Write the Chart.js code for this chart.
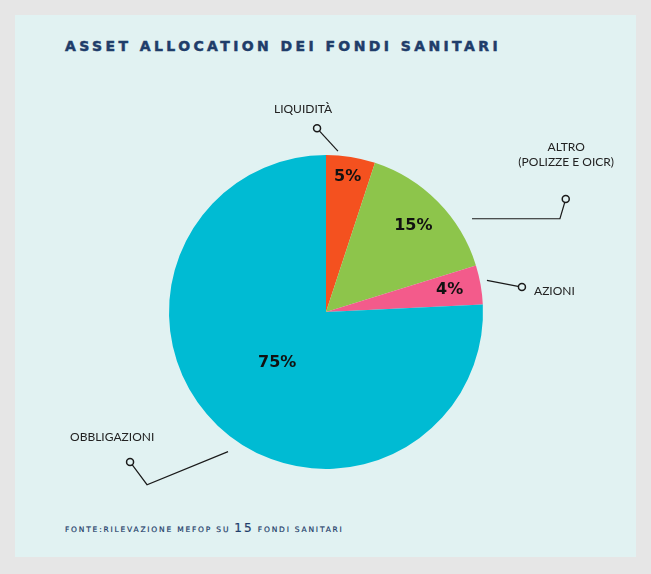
<!DOCTYPE html>
<html>
<head>
<meta charset="utf-8">
<script src="https://cdn.jsdelivr.net/npm/chart.js@4"></script>
<style>
    html, body { margin: 0; padding: 0; }
    body { width: 651px; height: 574px; background: #e6e6e6; position: relative; overflow: hidden; }
    #pannello { position: absolute; left: 15px; top: 15px; width: 621px; height: 542px; background: #e1f2f2; }
    #titolo { position: absolute; left: 65px; top: 38px; font-family: "DejaVu Sans", sans-serif; font-weight: bold; font-size: 14px; letter-spacing: 3.4px; color: #1f3d6a; white-space: nowrap; -webkit-text-stroke: 0.5px #1f3d6a; }
    #fonte { position: absolute; left: 65px; top: 521px; font-family: "DejaVu Sans", sans-serif; font-size: 7.5px; letter-spacing: 1.8px; color: #1f3d6a; white-space: nowrap; -webkit-text-stroke: 0.2px #1f3d6a; }
    #fonte b { font-size: 12px; font-weight: normal; letter-spacing: 2px; }
    #grafico { position: absolute; left: 0; top: 0; }
</style>
</head>
<body>
<div id="pannello"></div>
<div id="titolo">ASSET ALLOCATION DEI FONDI SANITARI</div>
<div id="fonte">FONTE:RILEVAZIONE MEFOP SU <b>15</b> FONDI SANITARI</div>
<canvas id="grafico" width="651" height="574"></canvas>
<script>
// dati (senso orario a partire dalle ore 12)
const categorie = ["LIQUIDITÀ", "ALTRO", "AZIONI", "OBBLIGAZIONI"];
const valori = [5, 15, 4, 75];
const colori = ["#f4511f", "#8dc54b", "#f35b8b", "#00bbd3"];

// posizione delle percentuali (frazione del raggio) e delle etichette esterne
// le coordinate sono relative al centro, in unità di raggio
const posPercentuale = [0.87, 0.78, 0.80, 0.45];
const guide = [
    { punti: [[0.076, -1.025], [-0.057, -1.17]], testo: ["LIQUIDITÀ"], tx: -0.146, ty: -1.29, align: "center" },
    { punti: [[0.93, -0.594], [1.49, -0.594], [1.527, -0.72]], testo: ["ALTRO", "(POLIZZE E OICR)"], tx: 1.53, ty: -1.05, align: "center" },
    { punti: [[1.025, -0.201], [1.248, -0.159]], testo: ["AZIONI"], tx: 1.325, ty: -0.134, align: "left" },
    { punti: [[-0.624, 0.889], [-1.14, 1.1], [-1.248, 0.955]], testo: ["OBBLIGAZIONI"], tx: -1.63, ty: 0.8, align: "left" }
];

const etichettePlugin = {
    id: "etichette",
    afterDatasetsDraw(chart) {
        const ctx = chart.ctx;
        const meta = chart.getDatasetMeta(0);
        const arco0 = meta.data[0];
        const cx = arco0.x, cy = arco0.y, r = arco0.outerRadius;

        ctx.save();
        // percentuali dentro le fette
        ctx.fillStyle = "#111";
        ctx.font = "bold 16px 'DejaVu Sans', sans-serif";
        ctx.textAlign = "center";
        ctx.textBaseline = "middle";
        meta.data.forEach((arco, i) => {
            const ang = (arco.startAngle + arco.endAngle) / 2;
            const rr = r * posPercentuale[i];
            ctx.fillText(valori[i] + "%", cx + Math.cos(ang) * rr, cy + Math.sin(ang) * rr);
        });

        // linee guida con pallino
        guide.forEach((g) => {
            ctx.strokeStyle = "#1a1a1a";
            ctx.lineWidth = 1.2;
            ctx.beginPath();
            g.punti.forEach((p, k) => {
                const x = cx + p[0] * r, y = cy + p[1] * r;
                if (k === 0) ctx.moveTo(x, y); else ctx.lineTo(x, y);
            });
            ctx.stroke();
            const ultimo = g.punti[g.punti.length - 1];
            ctx.beginPath();
            ctx.arc(cx + ultimo[0] * r, cy + ultimo[1] * r, 3.5, 0, Math.PI * 2);
            ctx.fillStyle = "#e1f2f2";
            ctx.fill();
            ctx.lineWidth = 1.5;
            ctx.stroke();

            ctx.fillStyle = "#222";
            ctx.font = "12px Lato, sans-serif";
            ctx.textAlign = g.align;
            g.testo.forEach((t, k) => {
                ctx.fillText(t, cx + g.tx * r, cy + g.ty * r + k * 15);
            });
        });
        ctx.restore();
    }
};

new Chart(document.getElementById("grafico"), {
    type: "pie",
    data: {
        labels: categorie,
        datasets: [{
            data: valori,
            backgroundColor: colori,
            borderWidth: 0
        }]
    },
    options: {
        responsive: false,
        animation: false,
        layout: { padding: { left: 169, right: 168, top: 155, bottom: 105 } },
        plugins: {
            legend: { display: false },
            tooltip: { enabled: false }
        }
    },
    plugins: [etichettePlugin]
});
</script>
</body>
</html>
